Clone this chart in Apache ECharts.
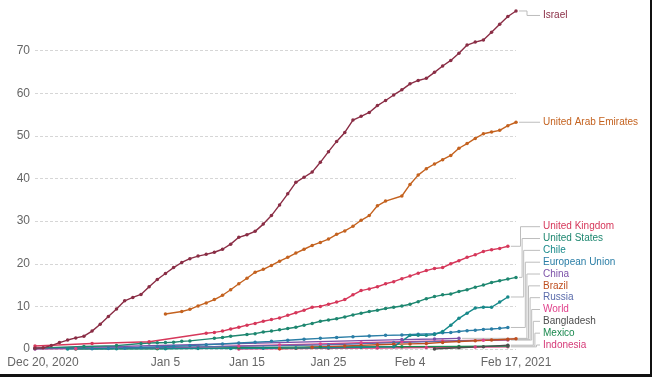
<!DOCTYPE html>
<html>
<head>
<meta charset="utf-8">
<script src="https://cdn.jsdelivr.net/npm/echarts@6/dist/echarts.min.js"></script>
<style>
  html, body { margin: 0; padding: 0; background: #fff; }
  #main { width: 652px; height: 377px; }
  .edge-b { position: absolute; left: 0; top: 374px; width: 652px; height: 3px; background: #111; }
  .edge-r { position: absolute; left: 650px; top: 0; width: 2px; height: 377px; background: #111; }
</style>
</head>
<body>
<div id="main"></div>
<div class="edge-b"></div>
<div class="edge-r"></div>
<script>
// x axis: one category per day, Dec 20 2020 .. Feb 17 2021
const dayCount = 60
const tickIdx = [0, 16, 26, 36, 46, 59]
const tickText = ['Dec 20, 2020', 'Jan 5', 'Jan 15', 'Jan 25', 'Feb 4', 'Feb 17, 2021']
const yTicks = [0, 10, 20, 30, 40, 50, 60, 70]

// doses per 100 people
const israel = [0.2, 0.3, 0.8, 1.5, 2.1, 2.6, 3.0, 4.2, 5.8, 7.6,
  9.4, 11.3, 12.1, 12.8, 14.6, 16.3, 17.7, 19.1, 20.3, 21.2,
  21.8, 22.2, 22.7, 23.4, 24.6, 26.2, 26.8, 27.6, 29.3, 31.3,
  33.8, 36.4, 39.1, 40.3, 41.5, 43.8, 46.3, 48.7, 50.8, 53.7,
  54.6, 55.5, 57.1, 58.3, 59.6, 60.8, 62.2, 63.0, 63.5, 64.9,
  66.4, 67.7, 69.4, 71.3, 72.0, 72.5, 74.3, 76.2, 78.0, 79.3]
const uae = [[16, 8.2], [18, 8.8], [19, 9.3], [20, 10.1], [21, 10.8], [22, 11.6], [23, 12.6], [24, 13.9],
  [25, 15.3], [26, 16.6], [27, 18.0], [28, 18.7], [29, 19.6], [30, 20.6], [31, 21.5], [32, 22.5],
  [33, 23.4], [34, 24.3], [35, 25.0], [36, 25.8], [37, 26.9], [38, 27.7], [39, 28.8], [40, 30.2],
  [41, 31.3], [42, 33.6], [43, 34.7], [45, 35.9], [46, 38.6], [47, 40.8], [48, 42.3], [49, 43.4],
  [50, 44.4], [51, 45.4], [52, 47.1], [53, 48.2], [54, 49.4], [55, 50.5], [56, 50.9], [57, 51.3],
  [58, 52.4], [59, 53.2]]
const uk = [[0, 0.7], [7, 1.3], [14, 1.7], [21, 3.7], [22, 3.9], [23, 4.2], [24, 4.7], [25, 5.1],
  [26, 5.6], [27, 6.0], [28, 6.5], [29, 6.9], [30, 7.3], [31, 7.9], [32, 8.5], [33, 9.1], [34, 9.8],
  [35, 10.0], [36, 10.5], [37, 11.0], [38, 11.6], [39, 12.7], [40, 13.7], [41, 14.1], [42, 14.6],
  [43, 15.3], [44, 15.8], [45, 16.5], [46, 17.1], [47, 17.8], [48, 18.4], [49, 18.9], [50, 19.1],
  [51, 20.0], [52, 20.7], [53, 21.5], [54, 22.1], [55, 22.9], [56, 23.3], [57, 23.6], [58, 24.1]]
const us = [[0, 0.2], [6, 0.6], [10, 0.8], [13, 1.3], [14, 1.4], [15, 1.45], [16, 1.5], [17, 1.6],
  [18, 1.8], [19, 1.9], [22, 2.5], [23, 2.7], [24, 3.0], [26, 3.4], [27, 3.6], [28, 4.0], [29, 4.2],
  [30, 4.5], [31, 4.8], [32, 5.1], [33, 5.6], [34, 6.0], [35, 6.5], [36, 6.8], [37, 7.1], [38, 7.5],
  [39, 8.0], [40, 8.4], [41, 8.8], [42, 9.1], [43, 9.5], [44, 9.8], [45, 10.1], [46, 10.5], [47, 11.1],
  [48, 11.8], [49, 12.3], [50, 12.7], [51, 12.9], [52, 13.5], [53, 13.9], [54, 14.5], [55, 15.0],
  [56, 15.6], [57, 16.0], [58, 16.4], [59, 16.8]]
const chile = [[4, 0.0], [10, 0.03], [16, 0.06], [20, 0.1], [24, 0.13], [28, 0.17], [32, 0.22],
  [36, 0.3], [40, 0.4], [44, 0.5], [46, 3.2], [47, 3.2], [48, 3.2], [49, 3.4], [50, 4.1], [51, 5.6],
  [52, 7.2], [53, 8.4], [54, 9.6], [55, 9.8], [56, 9.8], [57, 11.0], [58, 12.2]]
const eu = [[7, 0.05], [9, 0.1], [11, 0.2], [13, 0.35], [15, 0.5], [17, 0.65], [19, 0.8], [21, 1.0],
  [23, 1.2], [25, 1.4], [27, 1.6], [29, 1.8], [31, 2.05], [33, 2.3], [35, 2.5], [37, 2.7], [39, 2.9],
  [41, 3.05], [43, 3.2], [45, 3.3], [47, 3.45], [49, 3.6], [50, 3.8], [51, 3.9], [52, 4.1], [53, 4.3],
  [54, 4.4], [55, 4.6], [56, 4.7], [57, 4.85], [58, 5.05]]
const china = [[0, 0.1], [45, 2.2], [49, 2.35], [52, 2.5]]
const brazil = [[30, 0.05], [32, 0.2], [34, 0.4], [36, 0.55], [38, 0.7], [40, 0.85], [42, 1.0],
  [44, 1.1], [46, 1.2], [48, 1.3], [50, 1.55], [52, 1.75], [54, 1.95], [56, 2.1], [58, 2.3], [59, 2.4]]
const russia = [[0, 0.05], [20, 0.5], [36, 1.0], [44, 1.5], [52, 1.9], [58, 2.2]]
const world = [[0, 0.0], [5, 0.05], [10, 0.15], [15, 0.3], [20, 0.45], [25, 0.7], [30, 0.95],
  [35, 1.2], [40, 1.45], [45, 1.7], [50, 1.9], [55, 2.05], [58, 2.1]]
const bangladesh = [[49, 0.0], [52, 0.3], [55, 0.55], [58, 0.9]]
const mexico = [[5, 0.0], [15, 0.05], [25, 0.3], [35, 0.5], [45, 0.55], [52, 0.6], [58, 0.7]]
const indonesia = [[25, 0.0], [30, 0.05], [36, 0.15], [42, 0.25], [48, 0.35], [54, 0.45], [58, 0.5]]

const countries = [
  { name: 'Israel', color: '#8a2d45', data: israel.map((v, i) => [i, v]) },
  { name: 'United Arab Emirates', color: '#c4621f', data: uae },
  { name: 'United Kingdom', color: '#d6375a', data: uk },
  { name: 'United States', color: '#1e8770', data: us },
  { name: 'Chile', color: '#17898a', data: chile },
  { name: 'European Union', color: '#2a7ea6', data: eu },
  { name: 'China', color: '#7c51a8', data: china },
  { name: 'Brazil', color: '#bf4e1f', data: brazil },
  { name: 'Russia', color: '#5a6bab', data: russia },
  { name: 'World', color: '#e0418b', data: world },
  { name: 'Bangladesh', color: '#4d4d4d', data: bangladesh },
  { name: 'Mexico', color: '#1b8a4f', data: mexico },
  { name: 'Indonesia', color: '#d63a78', data: indonesia }
]

const days = []
for (let i = 0; i < dayCount; i++) days.push(String(i))

const chart = echarts.init(document.getElementById('main'))
const font = 'Liberation Sans, Arial, sans-serif'

chart.setOption({
  animation: false,
  grid: { left: 35, right: 136, top: 8, bottom: 28 },
  xAxis: {
    type: 'category',
    boundaryGap: false,
    data: days,
    axisLine: { show: false },
    axisTick: { show: false },
    axisLabel: {
      interval: (idx) => tickIdx.includes(idx),
      hideOverlap: false,
      margin: 8,
      color: '#666',
      fontSize: 12,
      fontFamily: font,
      formatter: (v, idx) => {
        const t = tickText[tickIdx.indexOf(idx)]
        return idx === 0 ? '{s|' + t + '}' : t
      },
      rich: { s: { padding: [0, 0, 0, 16], color: '#666', fontSize: 12, fontFamily: font } }
    }
  },
  yAxis: {
    type: 'value',
    min: 0,
    max: 80,
    interval: 10,
    axisLine: { show: false },
    axisTick: { show: false },
    axisLabel: {
      color: '#666',
      fontSize: 12,
      fontFamily: font,
      margin: 5,
      showMaxLabel: false,
      formatter: (v) => yTicks.includes(v) ? String(v) : ''
    },
    splitLine: {
      showMaxLine: false,
      lineStyle: { color: '#d6d6d6', type: [3, 2], width: 1 }
    }
  },
  series: countries.slice().reverse().map(c => ({
    name: c.name,
    type: 'line',
    data: c.data,
    symbol: 'circle',
    symbolSize: 3.5,
    showAllSymbol: true,
    lineStyle: { color: c.color, width: 1.4 },
    itemStyle: { color: c.color },
    z: 2
  }))
})

// end labels with elbow connectors
const labelX = 543
const stackTop = 226.7
const stackStep = 11.83
const graphics = []
countries.forEach((c, k) => {
  const last = c.data[c.data.length - 1]
  const p = chart.convertToPixel({ xAxisIndex: 0, yAxisIndex: 0 }, last)
  let ly, ex
  if (k === 0) { ly = p[1] + 4.5; ex = 527 }
  else if (k === 1) { ly = p[1]; ex = 530 }
  else { ly = stackTop + (k - 2) * stackStep; ex = 520.5 + (k - 2) * 1.6 }
  graphics.push({
    type: 'polyline',
    silent: true,
    shape: { points: [[p[0] + 3, p[1]], [ex, p[1]], [ex, ly], [labelX - 3, ly]] },
    style: { stroke: '#bdbdbd', lineWidth: 1, fill: null }
  })
  graphics.push({
    type: 'text',
    silent: true,
    x: labelX,
    y: ly,
    style: { text: c.name, fill: c.color, font: '10px ' + font, verticalAlign: 'middle' }
  })
})
chart.setOption({ graphic: graphics })
</script>
</body>
</html>
